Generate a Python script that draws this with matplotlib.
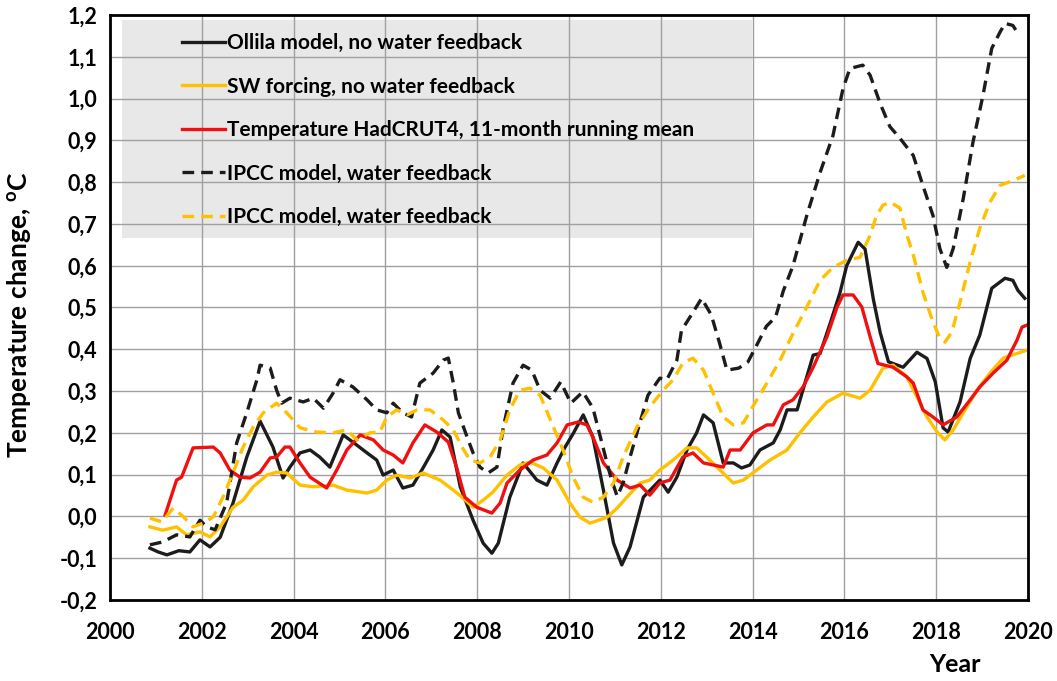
import matplotlib
matplotlib.use("Agg")
import matplotlib.pyplot as plt
from matplotlib.patches import Rectangle
from matplotlib.ticker import FixedLocator, FixedFormatter

plt.rcParams['font.family'] = ['Lato', 'DejaVu Sans']
plt.rcParams['font.weight'] = 'bold'
plt.rcParams['mathtext.fontset'] = 'custom'
plt.rcParams['mathtext.bf'] = 'Lato:bold'
plt.rcParams['mathtext.rm'] = 'Lato:bold'

# ---------------- data ----------------
ollila_x = [2000.87, 2001.05, 2001.24, 2001.5, 2001.74, 2001.96, 2002.18, 2002.40, 2002.68, 2002.98,
            2003.27, 2003.55, 2003.77, 2003.92, 2004.14, 2004.36, 2004.57, 2004.79, 2005.08, 2005.29,
            2005.60, 2005.81, 2005.95, 2006.17, 2006.38, 2006.60, 2006.82, 2007.04, 2007.23, 2007.41,
            2007.63, 2007.91, 2008.13, 2008.32, 2008.46, 2008.71, 2009.00, 2009.30, 2009.52, 2009.74,
            2009.91, 2010.10, 2010.31, 2010.52, 2010.75, 2010.97, 2011.15, 2011.33, 2011.62, 2011.98,
            2012.16, 2012.35, 2012.57, 2012.78, 2012.93, 2013.14, 2013.36, 2013.58, 2013.76, 2013.94,
            2014.16, 2014.45, 2014.60, 2014.75, 2014.97, 2015.18, 2015.32, 2015.47, 2015.69, 2015.90,
            2016.05, 2016.30, 2016.45, 2016.63, 2016.78, 2016.96, 2017.28, 2017.58, 2017.80, 2017.98,
            2018.15, 2018.26, 2018.52, 2018.74, 2018.95, 2019.21, 2019.50, 2019.67, 2019.78, 2019.93]
ollila_y = [-0.076, -0.085, -0.092, -0.082, -0.085, -0.056, -0.073, -0.050, 0.032, 0.142,
            0.228, 0.166, 0.092, 0.118, 0.152, 0.159, 0.142, 0.118, 0.195, 0.178,
            0.152, 0.135, 0.099, 0.111, 0.068, 0.075, 0.116, 0.159, 0.207, 0.190,
            0.071, -0.009, -0.064, -0.088, -0.064, 0.046, 0.128, 0.087, 0.075, 0.128,
            0.165, 0.200, 0.243, 0.190, 0.063, -0.064, -0.116, -0.073, 0.046, 0.087,
            0.058, 0.094, 0.159, 0.200, 0.243, 0.224, 0.128, 0.128, 0.116, 0.123,
            0.159, 0.176, 0.207, 0.255, 0.255, 0.334, 0.386, 0.390, 0.462, 0.534,
            0.600, 0.656, 0.640, 0.520, 0.440, 0.370, 0.357, 0.393, 0.378, 0.322,
            0.212, 0.202, 0.274, 0.378, 0.434, 0.546, 0.570, 0.565, 0.541, 0.522]

sw_x = [2000.87, 2001.15, 2001.45, 2001.67, 2001.96, 2002.18, 2002.40, 2002.68, 2002.90, 2003.12,
        2003.42, 2003.63, 2003.85, 2004.14, 2004.43, 2004.86, 2005.16, 2005.60, 2005.81, 2006.03,
        2006.25, 2006.54, 2006.82, 2007.19, 2007.48, 2007.69, 2007.91, 2008.13, 2008.34, 2008.65,
        2008.93, 2009.15, 2009.44, 2009.74, 2010.02, 2010.24, 2010.46, 2010.83, 2011.05, 2011.26,
        2011.55, 2011.76, 2011.98, 2012.27, 2012.57, 2012.78, 2013.00, 2013.29, 2013.58, 2013.80,
        2014.09, 2014.38, 2014.75, 2015.03, 2015.32, 2015.62, 2015.97, 2016.34, 2016.56, 2016.84,
        2017.06, 2017.36, 2017.58, 2017.80, 2018.02, 2018.19, 2018.37, 2018.59, 2018.89, 2019.17,
        2019.46, 2019.76, 2019.98]
sw_y = [-0.025, -0.033, -0.025, -0.044, -0.037, -0.049, -0.025, 0.022, 0.039, 0.071,
        0.099, 0.106, 0.104, 0.075, 0.071, 0.075, 0.063, 0.056, 0.063, 0.087,
        0.099, 0.092, 0.104, 0.087, 0.063, 0.044, 0.022, 0.039, 0.058, 0.099,
        0.123, 0.130, 0.116, 0.087, 0.032, -0.002, -0.016, -0.002, 0.020, 0.046,
        0.080, 0.087, 0.111, 0.135, 0.164, 0.164, 0.142, 0.111, 0.080, 0.087,
        0.111, 0.135, 0.159, 0.200, 0.238, 0.274, 0.295, 0.283, 0.302, 0.355,
        0.362, 0.334, 0.286, 0.238, 0.202, 0.183, 0.207, 0.248, 0.302, 0.343,
        0.379, 0.390, 0.398]

hadcrut_x = [2001.20, 2001.45, 2001.56, 2001.81, 2002.25, 2002.40, 2002.61, 2002.83, 2003.05, 2003.27,
             2003.49, 2003.63, 2003.81, 2003.92, 2004.14, 2004.36, 2004.72, 2004.94, 2005.16, 2005.45,
             2005.74, 2005.95, 2006.17, 2006.38, 2006.60, 2006.86, 2007.12, 2007.37, 2007.55, 2007.73,
             2007.99, 2008.32, 2008.50, 2008.65, 2008.93, 2009.22, 2009.52, 2009.74, 2009.96, 2010.20,
             2010.39, 2010.52, 2010.75, 2011.05, 2011.33, 2011.55, 2011.76, 2011.98, 2012.20, 2012.48,
             2012.70, 2012.93, 2013.36, 2013.51, 2013.73, 2014.01, 2014.31, 2014.45, 2014.67, 2014.88,
             2015.10, 2015.32, 2015.62, 2015.84, 2015.97, 2016.19, 2016.38, 2016.56, 2016.73, 2017.06,
             2017.36, 2017.50, 2017.71, 2017.93, 2018.15, 2018.45, 2018.74, 2018.95, 2019.24, 2019.54,
             2019.76, 2019.87, 2019.98]
hadcrut_y = [0.003, 0.087, 0.094, 0.164, 0.166, 0.152, 0.111, 0.094, 0.092, 0.106,
             0.140, 0.142, 0.166, 0.166, 0.128, 0.094, 0.068, 0.111, 0.159, 0.195,
             0.183, 0.159, 0.147, 0.128, 0.176, 0.219, 0.202, 0.178, 0.118, 0.046,
             0.022, 0.008, 0.032, 0.080, 0.111, 0.135, 0.147, 0.176, 0.219, 0.226,
             0.219, 0.190, 0.128, 0.087, 0.068, 0.075, 0.051, 0.080, 0.087, 0.142,
             0.152, 0.128, 0.118, 0.159, 0.159, 0.200, 0.219, 0.219, 0.267, 0.279,
             0.310, 0.357, 0.430, 0.501, 0.530, 0.530, 0.501, 0.430, 0.366, 0.357,
             0.334, 0.319, 0.255, 0.238, 0.219, 0.238, 0.279, 0.310, 0.343, 0.374,
             0.422, 0.453, 0.458]

ipcc_black_x = [2000.87, 2001.15, 2001.45, 2001.74, 2001.96, 2002.11, 2002.29, 2002.54, 2002.76, 2002.98,
                2003.20, 2003.27, 2003.49, 2003.63, 2003.74, 2003.92, 2004.21, 2004.43, 2004.65, 2004.86,
                2005.01, 2005.29, 2005.60, 2005.81, 2006.03, 2006.17, 2006.38, 2006.57, 2006.75, 2007.04,
                2007.26, 2007.37, 2007.48, 2007.59, 2007.78, 2007.91, 2008.06, 2008.24, 2008.43, 2008.57,
                2008.78, 2009.00, 2009.19, 2009.37, 2009.59, 2009.82, 2010.04, 2010.30, 2010.52, 2010.66,
                2010.80, 2010.92, 2011.05, 2011.18, 2011.33, 2011.52, 2011.72, 2011.98, 2012.13, 2012.35,
                2012.45, 2012.67, 2012.89, 2013.10, 2013.28, 2013.44, 2013.70, 2013.90, 2014.09, 2014.30,
                2014.50, 2014.67, 2014.88, 2015.18, 2015.47, 2015.75, 2015.97, 2016.12, 2016.40, 2016.56,
                2016.78, 2016.99, 2017.21, 2017.50, 2017.71, 2017.93, 2018.08, 2018.23, 2018.37, 2018.59,
                2018.80, 2019.02, 2019.21, 2019.39, 2019.50, 2019.67, 2019.78]
ipcc_black_y = [-0.068, -0.061, -0.044, -0.049, -0.009, -0.025, -0.032, 0.032, 0.176, 0.248,
                0.327, 0.362, 0.355, 0.302, 0.271, 0.283, 0.274, 0.283, 0.259, 0.295,
                0.327, 0.310, 0.279, 0.255, 0.248, 0.271, 0.248, 0.238, 0.319, 0.343,
                0.374, 0.379, 0.319, 0.248, 0.190, 0.152, 0.118, 0.104, 0.118, 0.214,
                0.319, 0.362, 0.350, 0.302, 0.283, 0.322, 0.271, 0.298, 0.260, 0.200,
                0.140, 0.090, 0.048, 0.080, 0.142, 0.215, 0.290, 0.331, 0.327, 0.374,
                0.445, 0.483, 0.522, 0.482, 0.415, 0.350, 0.355, 0.370, 0.410, 0.455,
                0.477, 0.540, 0.600, 0.720, 0.823, 0.911, 1.024, 1.072, 1.080, 1.056,
                0.988, 0.933, 0.905, 0.864, 0.792, 0.720, 0.641, 0.596, 0.641, 0.761,
                0.895, 1.008, 1.120, 1.159, 1.180, 1.175, 1.156]

ipcc_yellow_x = [2000.87, 2001.13, 2001.38, 2001.60, 2001.81, 2002.03, 2002.25, 2002.46, 2002.68, 2002.90,
                 2003.12, 2003.34, 2003.63, 2003.85, 2004.14, 2004.50, 2004.86, 2005.16, 2005.38, 2005.66,
                 2005.88, 2006.03, 2006.25, 2006.47, 2006.69, 2006.97, 2007.26, 2007.48, 2007.67, 2007.84,
                 2008.06, 2008.28, 2008.50, 2008.71, 2008.93, 2009.15, 2009.37, 2009.66, 2009.87, 2010.09,
                 2010.31, 2010.52, 2010.75, 2010.97, 2011.18, 2011.48, 2011.76, 2012.05, 2012.27, 2012.48,
                 2012.70, 2012.93, 2013.14, 2013.36, 2013.58, 2013.80, 2014.00, 2014.31, 2014.60, 2014.88,
                 2015.18, 2015.47, 2015.75, 2016.05, 2016.34, 2016.55, 2016.70, 2016.84, 2017.00, 2017.21,
                 2017.36, 2017.50, 2017.71, 2017.93, 2018.08, 2018.19, 2018.34, 2018.52, 2018.74, 2018.95,
                 2019.17, 2019.39, 2019.67, 2019.93]
ipcc_yellow_y = [-0.004, -0.013, 0.020, -0.001, -0.025, -0.016, -0.001, 0.046, 0.104, 0.166,
                 0.214, 0.248, 0.271, 0.248, 0.212, 0.202, 0.200, 0.207, 0.183, 0.200,
                 0.202, 0.238, 0.255, 0.243, 0.255, 0.255, 0.231, 0.207, 0.166, 0.135,
                 0.128, 0.142, 0.183, 0.255, 0.302, 0.307, 0.290, 0.214, 0.159, 0.094,
                 0.046, 0.034, 0.046, 0.080, 0.142, 0.214, 0.262, 0.302, 0.327, 0.367,
                 0.379, 0.350, 0.295, 0.238, 0.219, 0.224, 0.262, 0.319, 0.374, 0.438,
                 0.501, 0.565, 0.596, 0.613, 0.620, 0.670, 0.720, 0.745, 0.752, 0.738,
                 0.674, 0.626, 0.537, 0.465, 0.427, 0.417, 0.441, 0.513, 0.609, 0.690,
                 0.752, 0.792, 0.804, 0.816]

labels = ["Ollila model, no water feedback",
          "SW forcing, no water feedback",
          "Temperature HadCRUT4, 11-month running mean",
          "IPCC model, water feedback",
          "IPCC model, water feedback"]

x_ticks = [2000, 2002, 2004, 2006, 2008, 2010, 2012, 2014, 2016, 2018, 2020]
y_ticks = [-0.2, -0.1, 0.0, 0.1, 0.2, 0.3, 0.4, 0.5, 0.6, 0.7, 0.8, 0.9, 1.0, 1.1, 1.2]
y_tick_labels = ["-0,2", "-0,1", "0,0", "0,1", "0,2", "0,3", "0,4", "0,5", "0,6", "0,7",
                 "0,8", "0,9", "1,0", "1,1", "1,2"]

# ---------------- plot ----------------
BLACK = '#1c1c1c'
GOLD = '#FFC000'
RED = '#F01010'
LW = 2.4

fig = plt.figure(figsize=(10.57, 6.81), dpi=100)
ax = fig.add_axes([110/1057, 1 - 600/681, 918/1057, 585/681])

# grey legend background (grid drawn on top of it)
ax.add_patch(Rectangle((0.013, 0.619), 0.686, 0.372, transform=ax.transAxes,
                       facecolor='#e8e8e8', edgecolor='none', zorder=0.2))

ax.plot(ollila_x, ollila_y, color=BLACK, lw=LW, label=labels[0], zorder=2)
ax.plot(sw_x, sw_y, color=GOLD, lw=LW, label=labels[1], zorder=2)
ax.plot(hadcrut_x, hadcrut_y, color=RED, lw=LW, label=labels[2], zorder=2)
ax.plot(ipcc_black_x, ipcc_black_y, color=BLACK, lw=LW, dashes=(3.5, 2.1), label=labels[3], zorder=2)
ax.plot(ipcc_yellow_x, ipcc_yellow_y, color=GOLD, lw=LW, dashes=(3.5, 2.1), label=labels[4], zorder=2)

ax.set_xlim(2000, 2020)
ax.set_ylim(-0.2, 1.2)
ax.xaxis.set_major_locator(FixedLocator(x_ticks))
ax.set_xticklabels([str(t) for t in x_ticks])
ax.yaxis.set_major_locator(FixedLocator(y_ticks))
ax.yaxis.set_major_formatter(FixedFormatter(y_tick_labels))

ax.set_axisbelow(True)
ax.grid(True, color='#a0a0a0', lw=1.0)
for s in ax.spines.values():
    s.set_linewidth(2.0)
    s.set_color('black')

ax.tick_params(axis='both', length=0, labelsize=15.5)
ax.tick_params(axis='x', pad=16)
ax.tick_params(axis='y', pad=9)
for lab in ax.get_xticklabels() + ax.get_yticklabels():
    lab.set_fontweight('bold')

ax.set_xlabel("Year", fontsize=18, fontweight='bold')
ax.xaxis.set_label_coords((955 - 110) / 918, -0.09)
ax.set_ylabel(r"Temperature change, $^{\mathbf{o}}$C", fontsize=19, fontweight='bold')
ax.yaxis.set_label_coords(-0.083, 0.487)

leg = ax.legend(loc='upper left', bbox_to_anchor=(0.078, 0.969), frameon=False,
                fontsize=15, handlelength=2.07, handletextpad=0.1, labelspacing=1.13,
                borderpad=0, borderaxespad=0)
for t in leg.get_texts():
    t.set_fontweight('bold')
leg.set_zorder(5)

fig.savefig("out.png", dpi=100)
